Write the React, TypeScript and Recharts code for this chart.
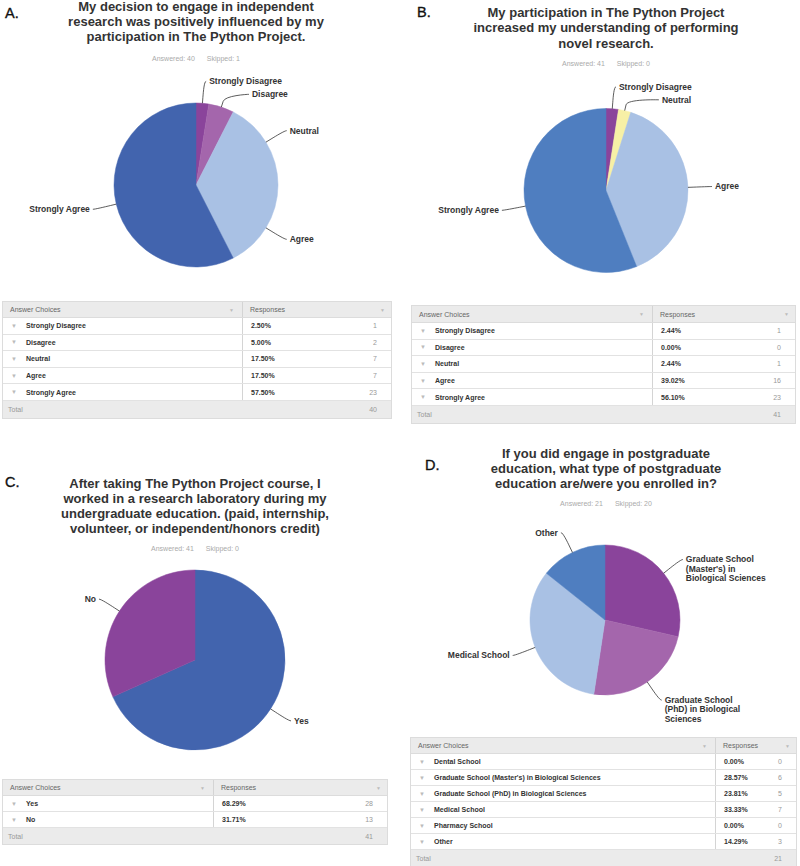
import React from 'react';
import { PieChart, Pie, Cell } from 'recharts';

const PURPLE = '#8a449b';
const LILAC = '#a466ac';
const PALE_BLUE = '#a9c1e4';
const DEEP_BLUE = '#4264ae';
const MID_BLUE = '#4f7ec0';
const PALE_YELLOW = '#f7f0a6';

// A. decision to engage in independent research
const likertChoices = ['Strongly Disagree', 'Disagree', 'Neutral', 'Agree', 'Strongly Agree'];
const decisionCounts = [1, 2, 7, 7, 23];
const decisionColors = [PURPLE, LILAC, PALE_BLUE, PALE_BLUE, DEEP_BLUE];

// B. understanding of novel research
const understandingCounts = [1, 0, 1, 16, 23];
const understandingColors = [PURPLE, LILAC, PALE_YELLOW, PALE_BLUE, MID_BLUE];

// C. worked in a research lab
const labChoices = ['Yes', 'No'];
const labCounts = [28, 13];
const labColors = [DEEP_BLUE, PURPLE];

// D. postgraduate education
const postgradChoices = [
  'Dental School',
  "Graduate School (Master's) in Biological Sciences",
  'Graduate School (PhD) in Biological Sciences',
  'Medical School',
  'Pharmacy School',
  'Other',
];
const postgradCounts = [0, 6, 5, 7, 0, 3];
const postgradColors = [DEEP_BLUE, PURPLE, LILAC, PALE_BLUE, PALE_YELLOW, MID_BLUE];

const FONT = '"Liberation Sans", Arial, Helvetica, sans-serif';
const LABEL_DIST = 22;
const LINE_H = 9.3;
const RAD = Math.PI / 180;

// split long slice names the way the survey tool wraps them
const wrap = (s: string, max = 20) => {
  const out: string[] = [];
  let cur = '';
  s.split(' ').forEach((w) => {
    if (cur && (cur + ' ' + w).length > max) {
      out.push(cur);
      cur = w;
    } else cur = cur ? cur + ' ' + w : w;
  });
  if (cur) out.push(cur);
  return out;
};

// highcharts-like label placement: on a ring outside the pie, pushed apart per side
function layoutLabels(values: number[], cx: number, cy: number, r: number, lines: number[]) {
  const total = values.reduce((a, b) => a + b, 0);
  const R = r + LABEL_DIST;
  let cum = 0;
  const items = values.map((v, i) => {
    const a = ((cum + v / 2) / total) * Math.PI * 2;
    cum += v;
    return { i, side: Math.sin(a) >= 0 ? 1 : -1, y: cy - R * Math.cos(a), x: 0 };
  });
  [1, -1].forEach((side) => {
    const s = items.filter((it) => it.side === side).sort((p, q) => p.y - q.y);
    for (let k = 1; k < s.length; k++) {
      const minY = s[k - 1].y + (lines[s[k - 1].i] - 1) * LINE_H + 13;
      if (s[k].y < minY) s[k].y = minY;
    }
  });
  items.forEach((it) => {
    const dy = it.y - cy;
    it.x = cx + it.side * Math.sqrt(Math.max(R * R - dy * dy, 0));
  });
  return items;
}

interface PieProps {
  left: number;
  top: number;
  height: number;
  cx: number;
  cy: number;
  r: number;
  names: string[];
  counts: number[];
  colors: string[];
}

const SurveyPie = ({ left, top, height, cx, cy, r, names, counts, colors }: PieProps) => {
  const data = names
    .map((name, i) => ({ name, value: counts[i], color: colors[i] }))
    .filter((d) => d.value > 0);
  const wrapped = data.map((d) => wrap(d.name));
  const layout = layoutLabels(data.map((d) => d.value), cx, cy, r, wrapped.map((w) => w.length));

  const renderLabel = (p: any) => {
    const L = layout[p.index];
    if (!L) return null;
    const ang = -p.midAngle * RAD;
    const ex = p.cx + p.outerRadius * Math.cos(ang);
    const ey = p.cy + p.outerRadius * Math.sin(ang);
    const bx = p.cx + (p.outerRadius + 6) * Math.cos(ang);
    const by = p.cy + (p.outerRadius + 6) * Math.sin(ang);
    const path = `M${L.x + L.side * 2},${L.y} C${L.x},${L.y} ${2 * bx - ex},${2 * by - ey} ${bx},${by} L${ex},${ey}`;
    return (
      <g key={`lbl-${p.index}`}>
        <path d={path} fill="none" stroke="#333" strokeWidth={0.8} />
        <text
          x={L.x + L.side * 5}
          y={L.y}
          textAnchor={L.side > 0 ? 'start' : 'end'}
          fontFamily={FONT}
          fontSize={8.5}
          fontWeight="bold"
          fill="#333"
        >
          {wrapped[p.index].map((ln, k) => (
            <tspan key={k} x={L.x + L.side * 5} dy={k === 0 ? '0.35em' : LINE_H}>
              {ln}
            </tspan>
          ))}
        </text>
      </g>
    );
  };

  return (
    <div style={{ position: 'absolute', left, top }}>
      <PieChart width={400} height={height} margin={{ top: 0, right: 0, bottom: 0, left: 0 }}>
        <Pie
          data={data}
          dataKey="value"
          nameKey="name"
          cx={cx}
          cy={cy}
          outerRadius={r}
          startAngle={90}
          endAngle={-270}
          label={renderLabel}
          labelLine={false}
          isAnimationActive={false}
        >
          {data.map((d) => (
            <Cell key={d.name} fill={d.color} stroke={d.color} strokeWidth={0.5} />
          ))}
        </Pie>
      </PieChart>
    </div>
  );
};

interface TableProps {
  left: number;
  top: number;
  width: number;
  divider: number;
  headerH: number;
  rowH: number;
  names: string[];
  counts: number[];
}

const ResponseTable = ({ left, top, width, divider, headerH, rowH, names, counts }: TableProps) => {
  const total = counts.reduce((a, b) => a + b, 0);
  const cell: React.CSSProperties = { display: 'flex', alignItems: 'center', boxSizing: 'border-box' };
  const arrow = <span style={{ color: '#bbb', fontSize: 6, width: 13, display: 'inline-block' }}>▼</span>;
  return (
    <div
      style={{
        position: 'absolute',
        left,
        top,
        width,
        fontFamily: FONT,
        fontSize: 7,
        border: '1px solid #dcdcdc',
        boxSizing: 'border-box',
      }}
    >
      <div style={{ ...cell, height: headerH, background: '#ebebeb', color: '#666', borderBottom: '1px solid #dcdcdc' }}>
        <div style={{ ...cell, width: divider, paddingLeft: 7, justifyContent: 'space-between', paddingRight: 8, height: '100%', borderRight: '1px solid #d4d4d4' }}>
          <span>Answer Choices</span>
          <span style={{ color: '#bbb', fontSize: 5 }}>▼</span>
        </div>
        <div style={{ ...cell, flex: 1, paddingLeft: 7, paddingRight: 6, justifyContent: 'space-between' }}>
          <span>Responses</span>
          <span style={{ color: '#bbb', fontSize: 5 }}>▼</span>
        </div>
      </div>
      {names.map((n, i) => (
        <div key={n} style={{ ...cell, height: rowH, background: '#fff', borderBottom: '1px solid #e2e2e2' }}>
          <div style={{ ...cell, width: divider, paddingLeft: 8, height: '100%', borderRight: '1px solid #d4d4d4', color: '#333', fontWeight: 'bold' }}>
            {arrow}
            <span style={{ marginLeft: 2 }}>{n}</span>
          </div>
          <div style={{ ...cell, flex: 1, paddingLeft: 8, paddingRight: 14, justifyContent: 'space-between' }}>
            <span style={{ fontWeight: 'bold', color: '#333' }}>{((counts[i] / total) * 100).toFixed(2)}%</span>
            <span style={{ color: '#999' }}>{counts[i]}</span>
          </div>
        </div>
      ))}
      <div style={{ ...cell, height: rowH, background: '#ebebeb', color: '#999', paddingLeft: 5, paddingRight: 14, justifyContent: 'space-between' }}>
        <span>Total</span>
        <span>{total}</span>
      </div>
    </div>
  );
};

const Heading = ({ letter, lx, ly, x, lines, baseline, step, answered, skipped, ay }: any) => (
  <g fontFamily={FONT}>
    <text x={lx} y={ly} fontSize={14.5} fill="#111" stroke="#111" strokeWidth={0.35}>
      {letter}
    </text>
    {lines.map((t: string, k: number) => (
      <text key={k} x={x} y={baseline + k * step} textAnchor="middle" fontSize={13} fontWeight="bold" fill="#333">
        {t}
      </text>
    ))}
    <text x={x} y={ay} textAnchor="middle" fontSize={7} fill="#aaa">
      {`Answered: ${answered}`}
      <tspan dx={12}>{`Skipped: ${skipped}`}</tspan>
    </text>
  </g>
);

export default function App() {
  return (
    <div style={{ position: 'absolute', left: 0, top: 0, width: 800, height: 866, background: '#fff', overflow: 'hidden' }}>
      <SurveyPie left={0} top={0} height={300} cx={196} cy={185} r={82} names={likertChoices} counts={decisionCounts} colors={decisionColors} />
      <SurveyPie left={400} top={0} height={300} cx={206} cy={190.5} r={82} names={likertChoices} counts={understandingCounts} colors={understandingColors} />
      <SurveyPie left={0} top={430} height={335} cx={195} cy={230} r={90} names={labChoices} counts={labCounts} colors={labColors} />
      <SurveyPie left={400} top={430} height={300} cx={205} cy={190} r={75} names={postgradChoices} counts={postgradCounts} colors={postgradColors} />

      <svg width={800} height={866} style={{ position: 'absolute', left: 0, top: 0, pointerEvents: 'none' }}>
        <Heading
          letter="A." lx={5} ly={18} x={196} baseline={11} step={15}
          lines={['My decision to engage in independent', 'research was positively influenced by my', 'participation in The Python Project.']}
          answered={40} skipped={1} ay={61}
        />
        <Heading
          letter="B." lx={417} ly={17} x={606} baseline={16.6} step={15.5}
          lines={['My participation in The Python Project', 'increased my understanding of performing', 'novel research.']}
          answered={41} skipped={0} ay={66}
        />
        <Heading
          letter="C." lx={5} ly={487} x={195} baseline={487.6} step={15}
          lines={[
            'After taking The Python Project course, I',
            'worked in a research laboratory during my',
            'undergraduate education. (paid, internship,',
            'volunteer, or independent/honors credit)',
          ]}
          answered={41} skipped={0} ay={551}
        />
        <Heading
          letter="D." lx={425} ly={470} x={606} baseline={458} step={15}
          lines={['If you did engage in postgraduate', 'education, what type of postgraduate', 'education are/were you enrolled in?']}
          answered={21} skipped={20} ay={506}
        />
      </svg>

      <ResponseTable left={2} top={301} width={390} divider={240} headerH={16} rowH={16.6} names={likertChoices} counts={decisionCounts} />
      <ResponseTable left={411} top={305} width={385} divider={241} headerH={17} rowH={16.6} names={likertChoices} counts={understandingCounts} />
      <ResponseTable left={2} top={779} width={386} divider={211} headerH={16} rowH={16} names={labChoices} counts={labCounts} />
      <ResponseTable left={410} top={737} width={387} divider={305} headerH={16} rowH={16} names={postgradChoices} counts={postgradCounts} />
    </div>
  );
}
